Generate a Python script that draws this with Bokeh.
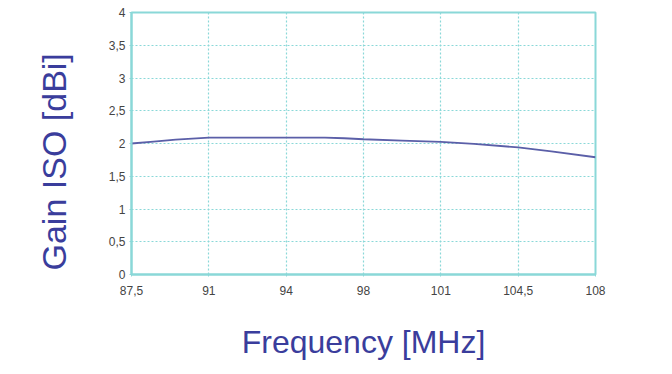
import numpy as np
from bokeh.plotting import figure
from bokeh.models import FixedTicker, Title
from bokeh.embed import file_html
from bokeh.resources import INLINE

# tick labels (equally spaced on the axis)
tick_freqs = [87.5, 91, 94, 98, 101, 104.5, 108]
tick_labels = ["87,5", "91", "94", "98", "101", "104,5", "108"]

# curve
freq = [87.5, 88.5, 89.5, 91, 94, 96, 97, 98, 99.5, 101, 102.5, 104.5, 106, 108]
gain = [2.00, 2.03, 2.06, 2.09, 2.09, 2.09, 2.08, 2.065, 2.045, 2.025, 1.995, 1.94, 1.88, 1.79]

y_ticks = [0, 0.5, 1, 1.5, 2, 2.5, 3, 3.5, 4]
y_labels = ["0", "0,5", "1", "1,5", "2", "2,5", "3", "3,5", "4"]

xpos = np.interp(freq, tick_freqs, list(range(len(tick_freqs))))

teal = "#8ad8d8"
blue = "#3a3d9c"

p = figure(width=656, height=364, output_backend="svg", toolbar_location=None,
           x_range=(0, len(tick_freqs) - 1), y_range=(0, 4),
           min_border_left=131, min_border_right=61, min_border_top=12, min_border_bottom=90)

p.line(xpos, gain, line_color="#5b5fa8", line_width=1.8)

p.xaxis.ticker = FixedTicker(ticks=list(range(len(tick_freqs))))
p.xaxis.major_label_overrides = {i: l for i, l in enumerate(tick_labels)}
p.yaxis.ticker = FixedTicker(ticks=y_ticks)
p.yaxis.major_label_overrides = {t: l for t, l in zip(y_ticks, y_labels)}

for ax in (p.xaxis[0], p.yaxis[0]):
    ax.axis_line_color = teal
    ax.axis_line_width = 2
    ax.major_tick_line_color = teal
    ax.major_tick_out = 2
    ax.major_tick_in = 0
    ax.minor_tick_line_color = None
    ax.major_label_text_font = "Liberation Sans"
    ax.major_label_text_font_size = "12px"
    ax.major_label_text_color = "#444444"

p.xaxis.axis_label = "Frequency [MHz]"
p.xaxis.axis_label_text_font = "Liberation Sans"
p.xaxis.axis_label_text_font_size = "32px"
p.xaxis.axis_label_text_font_style = "normal"
p.xaxis.axis_label_text_color = blue
p.xaxis.major_label_standoff = 9
p.yaxis.major_label_standoff = 4
p.xaxis.axis_label_standoff = 26

# y-axis title as a left-side title, starting just above the frame's bottom
ytitle = Title(text="Gain ISO [dBi]", align="left", offset=4, standoff=65,
               text_font="Liberation Sans", text_font_size="34px",
               text_font_style="normal", text_color=blue)
p.add_layout(ytitle, "left")

p.xgrid.grid_line_color = teal
p.ygrid.grid_line_color = teal
p.xgrid.grid_line_dash = "2 2"
p.ygrid.grid_line_dash = "2 2"
p.xgrid.grid_line_width = 1.2
p.ygrid.grid_line_width = 1.2

p.outline_line_color = teal
p.outline_line_width = 2
p.background_fill_color = "white"
p.border_fill_color = "white"

open("out.html", "w").write(file_html(p, INLINE))
